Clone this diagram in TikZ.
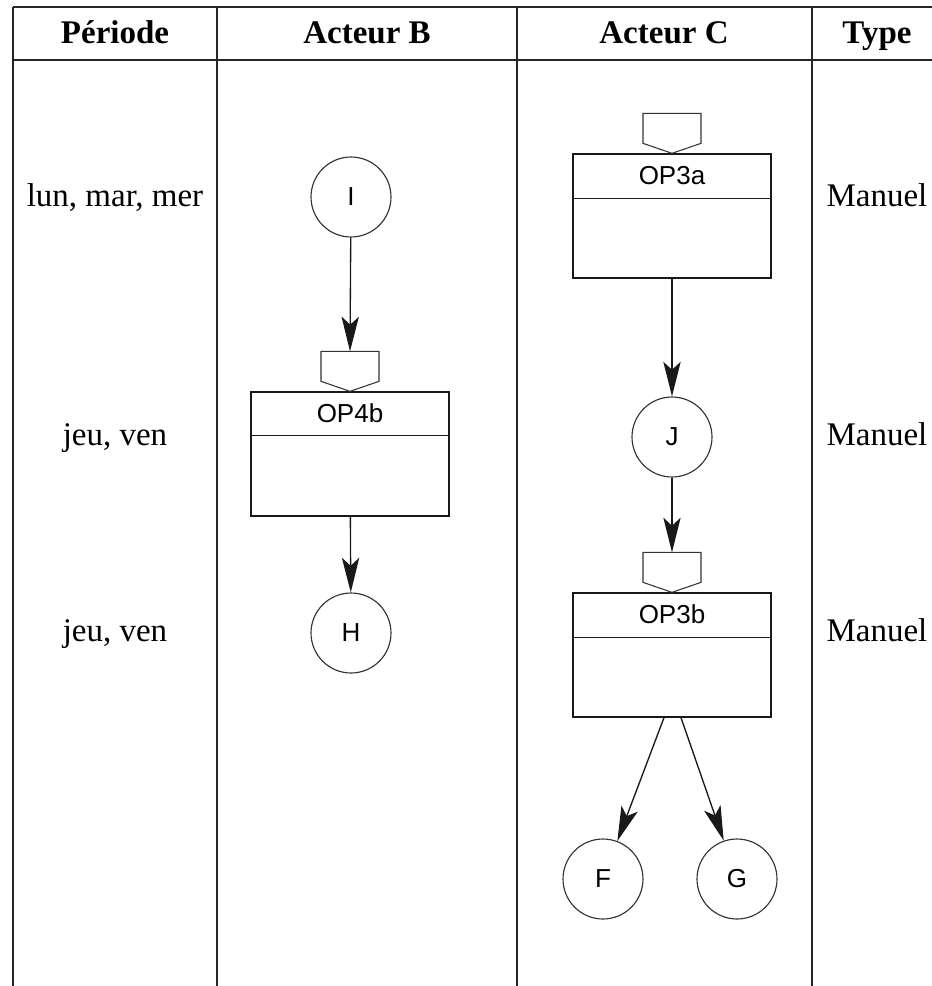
\documentclass[tikz,border=0pt]{standalone}
\usepackage{fontspec}
\setmainfont{Liberation Serif}
\newfontfamily\hsans{Liberation Sans}
\usetikzlibrary{arrows.meta}
\begin{document}
\begin{tikzpicture}[x=0.75pt,y=-0.75pt,
  tbl/.style={line width=1.3pt, draw=black!85},
  hdr/.style={font=\fontsize{24.75pt}{28pt}\selectfont\bfseries, inner sep=0pt, text height=17pt, text depth=5pt},
  cell/.style={font=\fontsize{24.75pt}{28pt}\selectfont, inner sep=0pt, text height=17pt, text depth=5pt},
  state/.style={circle, draw=black!80, line width=0.85pt, minimum size=60pt, inner sep=0pt, font=\hsans\fontsize{19.5pt}{22pt}\selectfont},
  opbox/.style={rectangle, draw=black!90, line width=1pt, minimum width=148.5pt, minimum height=93pt, inner sep=0pt},
  oplabel/.style={font=\hsans\fontsize{19.5pt}{22pt}\selectfont, inner sep=0pt},
  capline/.style={draw=black!80, line width=0.8pt},
  flow/.style={line width=1pt, draw=black!90, -{Stealth[length=26pt,width=13pt,inset=6pt]}},
]
\useasboundingbox (0,0) rectangle (932,986);
% table
\draw[tbl] (13,7) -- (932,7);
\draw[tbl] (13,60) -- (932,60);
\draw[tbl] (13,7) -- (13,986);
\draw[tbl] (217,7) -- (217,986);
\draw[tbl] (517,7) -- (517,986);
\draw[tbl] (812,7) -- (812,986);
% headers
\node[hdr] (hP) at (115,35) {Période};
\node[hdr] (hB) at (367,35) {Acteur B};
\node[hdr] (hC) at (664,35) {Acteur C};
\node[hdr] (hT) at (877,35) {Type};
% periods
\node[cell] (p1) at (115,198) {lun, mar, mer};
\node[cell] (p2) at (115,437) {jeu, ven};
\node[cell] (p3) at (115,633) {jeu, ven};
% types
\node[cell] (t1) at (877,198) {Manuel};
\node[cell] (t2) at (877,437) {Manuel};
\node[cell] (t3) at (877,633) {Manuel};
% Acteur B
\node[state] (I) at (351,197) {I};
\node[opbox] (op4b) at (350,454) {};
\node[oplabel] (op4bl) at ([yshift=-16.5pt]op4b.north) {OP4b};
\draw[draw=black!90, line width=1pt] ([yshift=-33pt]op4b.north west) -- ([yshift=-33pt]op4b.north east);
\begin{scope}[shift={(op4b.north)}]
  \draw[capline] (-29,-40) -- (29,-40) -- (29,-10) -- (0,0) -- (-29,-10) -- cycle;
  \coordinate (cap4b) at (0,-40);
\end{scope}
\node[state] (H) at (351,633) {H};
\draw[flow] (I) -- (cap4b);
\draw[flow] (op4b) -- (H);
% Acteur C
\node[opbox] (op3a) at (672,216) {};
\node[oplabel] (op3al) at ([yshift=-16.5pt]op3a.north) {OP3a};
\draw[draw=black!90, line width=1pt] ([yshift=-34pt]op3a.north west) -- ([yshift=-34pt]op3a.north east);
\begin{scope}[shift={(op3a.north)}]
  \draw[capline] (-29,-40) -- (29,-40) -- (29,-10) -- (0,0) -- (-29,-10) -- cycle;
\end{scope}
\node[state] (J) at (672,437) {J};
\node[opbox] (op3b) at (672,655) {};
\node[oplabel] (op3bl) at ([yshift=-16.5pt]op3b.north) {OP3b};
\draw[draw=black!90, line width=1pt] ([yshift=-34pt]op3b.north west) -- ([yshift=-34pt]op3b.north east);
\begin{scope}[shift={(op3b.north)}]
  \draw[capline] (-29,-40) -- (29,-40) -- (29,-10) -- (0,0) -- (-29,-10) -- cycle;
  \coordinate (cap3b) at (0,-40);
\end{scope}
\node[state] (F) at (603,879) {F};
\node[state] (G) at (737,879) {G};
\draw[flow] (op3a) -- (J);
\draw[flow] (J) -- (cap3b);
\draw[flow] ([xshift=-6pt]op3b.south) -- (F);
\draw[flow] ([xshift=6.75pt]op3b.south) -- (G);
\end{tikzpicture}
\end{document}
